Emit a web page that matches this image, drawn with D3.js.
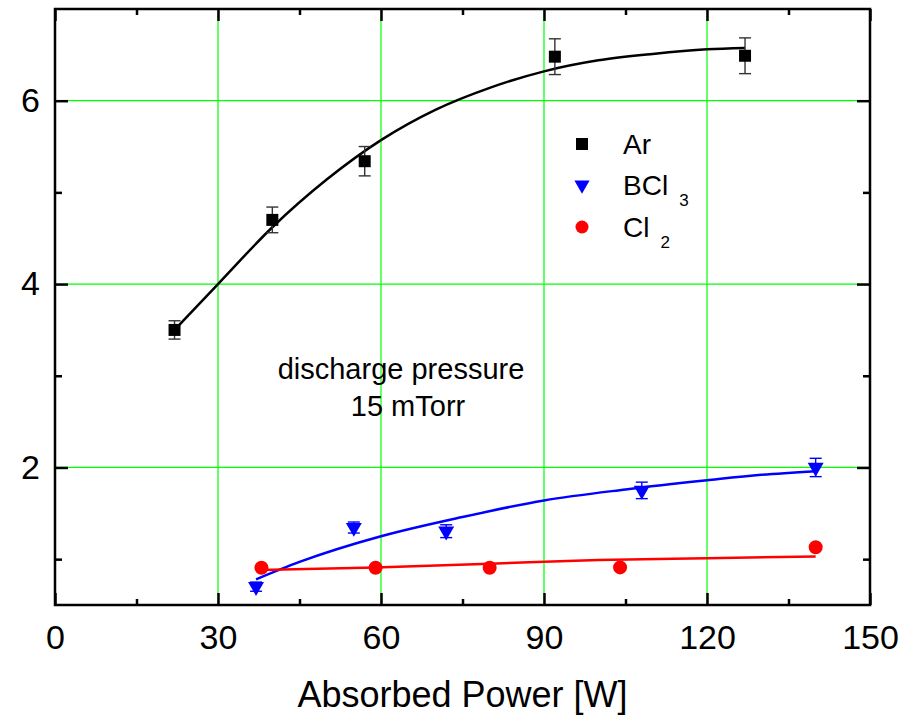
<!DOCTYPE html>
<html>
<head>
<meta charset="utf-8">
<script src="https://cdn.jsdelivr.net/npm/d3@7"></script>
<style>
body{margin:0;background:#fff}
text{font-family:"Liberation Sans",Arial,Helvetica,sans-serif;fill:#000}
</style>
</head>
<body>
<svg id="chart" width="918" height="716"></svg>
<script>
// measured points
var arX = [22, 40, 57, 92, 127];
var arY = [3.50, 4.70, 5.34, 6.48, 6.49];
var arErr = [0.10, 0.14, 0.16, 0.195, 0.195];

var bclX = [37, 55, 72, 108, 140];
var bclY = [0.70, 1.345, 1.305, 1.75, 2.00];
var bclErr = [0.05, 0.06, 0.07, 0.09, 0.10];

var clX = [38, 59, 80, 104, 140];
var clY = [0.906, 0.906, 0.906, 0.91, 1.13];

// fit curves
var arFitX = [22, 30, 40, 50, 60, 70, 80, 90, 100, 110, 120, 127];
var arFitY = [3.50, 4.00, 4.62, 5.14, 5.57, 5.90, 6.14, 6.32, 6.44, 6.51, 6.56, 6.575];
var bclFitX = [37, 45, 60, 75, 90, 105, 120, 130, 140];
var bclFitY = [0.78, 0.97, 1.25, 1.46, 1.64, 1.76, 1.86, 1.92, 1.96];
var clFitX = [37, 59, 80, 100, 120, 140];
var clFitY = [0.88, 0.91, 0.95, 0.99, 1.01, 1.03];

var xMajor = [0, 30, 60, 90, 120, 150];
var xMinor = [15, 45, 75, 105, 135];
var yMajor = [2, 4, 6];
var yMinor = [1, 3, 5];
var xGrid = [30, 60, 90, 120];
var yGrid = [2, 4, 6];

var legendLabels = ["Ar", "BCl", "Cl"];
var legendSubs = ["", "3", "2"];
var xTitle = "Absorbed Power [W]";
var note = ["discharge pressure", "15 mTorr"];

var margin = {left: 55, top: 9, right: 48, bottom: 111};
var width = 918 - margin.left - margin.right;
var height = 716 - margin.top - margin.bottom;

var svg = d3.select("#chart");
var g = svg.append("g").attr("transform", "translate(" + margin.left + "," + margin.top + ")");

var x = d3.scaleLinear().domain([0, 150]).range([0, width]);
var y = d3.scaleLinear().domain([0.5, 7]).range([height, 0]);

var zip = function(a, b){ return a.map(function(v, i){ return [v, b[i]]; }); };

// grid
g.selectAll(".gx").data(xGrid).enter().append("line")
	.attr("x1", function(d){ return x(d); }).attr("x2", function(d){ return x(d); })
	.attr("y1", 0).attr("y2", height)
	.attr("stroke", "#00ff00").attr("stroke-width", 1.2);
g.selectAll(".gy").data(yGrid).enter().append("line")
	.attr("y1", function(d){ return y(d); }).attr("y2", function(d){ return y(d); })
	.attr("x1", 0).attr("x2", width)
	.attr("stroke", "#00ff00").attr("stroke-width", 1.2);

// axes with inward ticks on all four sides
function styleAxis(sel){
	sel.select(".domain").remove();
	sel.selectAll(".tick line").attr("stroke", "#000").attr("stroke-width", 2.5);
	sel.selectAll("text").style("font-size", "34px").attr("fill", "#000");
}
g.append("g").attr("transform", "translate(0," + height + ")")
	.call(d3.axisBottom(x).tickValues(xMajor).tickSize(-12).tickPadding(20).tickFormat(d3.format("d")))
	.call(styleAxis);
g.append("g").attr("transform", "translate(0," + height + ")")
	.call(d3.axisBottom(x).tickValues(xMinor).tickSize(-6).tickFormat(""))
	.call(styleAxis);
g.append("g")
	.call(d3.axisTop(x).tickValues(xMajor).tickSize(-12).tickFormat(""))
	.call(styleAxis);
g.append("g")
	.call(d3.axisTop(x).tickValues(xMinor).tickSize(-6).tickFormat(""))
	.call(styleAxis);
g.append("g")
	.call(d3.axisLeft(y).tickValues(yMajor).tickSize(-13).tickPadding(15).tickFormat(d3.format("d")))
	.call(styleAxis);
g.append("g")
	.call(d3.axisLeft(y).tickValues(yMinor).tickSize(-7).tickFormat(""))
	.call(styleAxis);
g.append("g").attr("transform", "translate(" + width + ",0)")
	.call(d3.axisRight(y).tickValues(yMajor).tickSize(-13).tickFormat(""))
	.call(styleAxis);
g.append("g").attr("transform", "translate(" + width + ",0)")
	.call(d3.axisRight(y).tickValues(yMinor).tickSize(-7).tickFormat(""))
	.call(styleAxis);

g.append("rect").attr("width", width).attr("height", height)
	.attr("fill", "none").attr("stroke", "#000").attr("stroke-width", 2.5);

// fit lines
var line = d3.line()
	.x(function(d){ return x(d[0]); })
	.y(function(d){ return y(d[1]); })
	.curve(d3.curveMonotoneX);

g.append("path").attr("d", line(zip(arFitX, arFitY)))
	.attr("fill", "none").attr("stroke", "#000").attr("stroke-width", 2.5);
g.append("path").attr("d", line(zip(bclFitX, bclFitY)))
	.attr("fill", "none").attr("stroke", "#0000ff").attr("stroke-width", 2.5);
g.append("path").attr("d", line(zip(clFitX, clFitY)))
	.attr("fill", "none").attr("stroke", "#ff0000").attr("stroke-width", 2.5);

// error bars
function errorBars(xs, ys, es, color){
	var eb = g.append("g").attr("stroke", color).attr("stroke-width", 1.4);
	xs.forEach(function(xv, i){
		var top = y(ys[i] + es[i]), bot = y(ys[i] - es[i]), cx = x(xv);
		eb.append("line").attr("x1", cx).attr("x2", cx).attr("y1", top).attr("y2", bot);
		eb.append("line").attr("x1", cx - 6).attr("x2", cx + 6).attr("y1", top).attr("y2", top);
		eb.append("line").attr("x1", cx - 6).attr("x2", cx + 6).attr("y1", bot).attr("y2", bot);
	});
}
errorBars(arX, arY, arErr, "#333");
errorBars(bclX, bclY, bclErr, "#0000ff");

// markers
var square = d3.symbol().type(d3.symbolSquare).size(144);
var tri = d3.symbol().type(d3.symbolTriangle).size(111);
var circ = d3.symbol().type(d3.symbolCircle).size(154);

g.selectAll(".ar").data(zip(arX, arY)).enter().append("path")
	.attr("d", square)
	.attr("transform", function(d){ return "translate(" + x(d[0]) + "," + y(d[1]) + ")"; })
	.attr("fill", "#000");
g.selectAll(".bcl").data(zip(bclX, bclY)).enter().append("path")
	.attr("d", tri)
	.attr("transform", function(d){ return "translate(" + x(d[0]) + "," + y(d[1]) + ") rotate(180)"; })
	.attr("fill", "#0000ff");
g.selectAll(".cl").data(zip(clX, clY)).enter().append("path")
	.attr("d", circ)
	.attr("transform", function(d){ return "translate(" + x(d[0]) + "," + y(d[1]) + ")"; })
	.attr("fill", "#ff0000");

// legend
var legendMarks = [
	{sym: square, fill: "#000", rot: 0},
	{sym: d3.symbol().type(d3.symbolTriangle).size(100), fill: "#0000ff", rot: 180},
	{sym: d3.symbol().type(d3.symbolCircle).size(133), fill: "#ff0000", rot: 0}
];
var legY = [144, 185, 227];
var legend = svg.append("g");
legendLabels.forEach(function(lab, i){
	legend.append("path").attr("d", legendMarks[i].sym)
		.attr("transform", "translate(582," + legY[i] + ") rotate(" + legendMarks[i].rot + ")")
		.attr("fill", legendMarks[i].fill);
	var t = legend.append("text").attr("x", 623).attr("y", legY[i] + 10).style("font-size", "28px").text(lab);
	if (legendSubs[i]) {
		t.append("tspan").attr("dx", 11).attr("dy", 11).style("font-size", "17px").text(legendSubs[i]);
	}
});

// annotation
svg.append("text").attr("x", 401).attr("y", 379).attr("text-anchor", "middle")
	.style("font-size", "29px").text(note[0]);
svg.append("text").attr("x", 408).attr("y", 416).attr("text-anchor", "middle")
	.style("font-size", "29px").text(note[1]);

// axis title
svg.append("text").attr("x", margin.left + width / 2).attr("y", 707).attr("text-anchor", "middle")
	.style("font-size", "36px").text(xTitle);
</script>
</body>
</html>
